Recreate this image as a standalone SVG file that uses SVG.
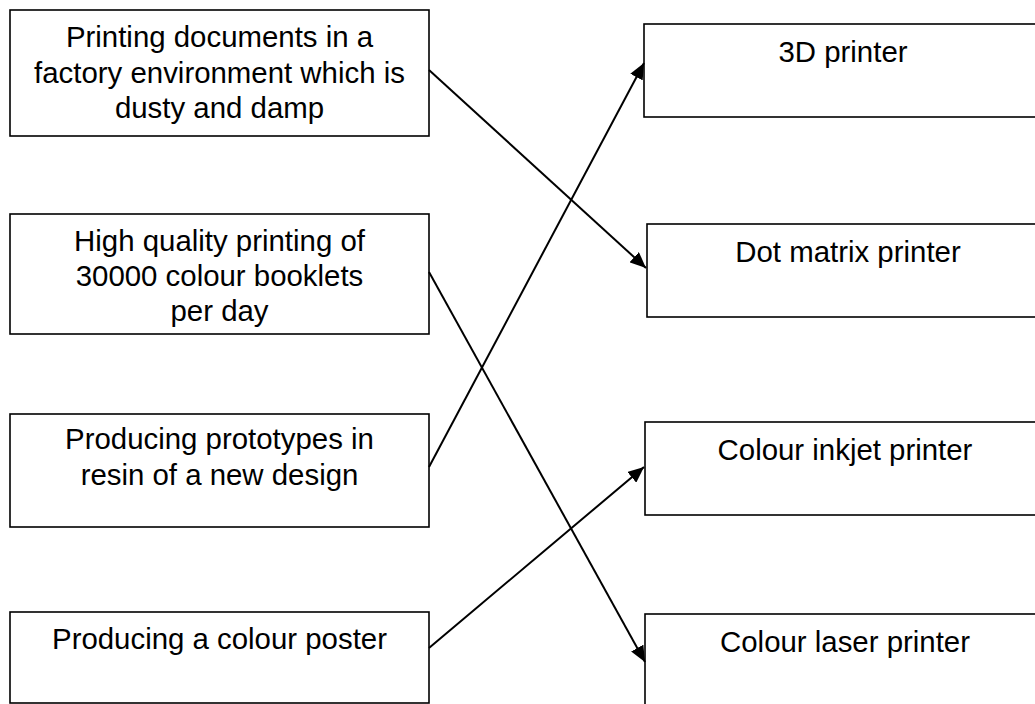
<svg xmlns="http://www.w3.org/2000/svg" width="1035" height="704" viewBox="0 0 1035 704">
<style>
.box{fill:#fff;stroke:#000;stroke-width:1.6}
.t{font-family:"Liberation Sans",Arial,sans-serif;font-size:29.4px;fill:#000;text-anchor:middle}
.c{fill:none;stroke:#000;stroke-width:2}
</style>
<defs>
<marker id="ah" markerUnits="userSpaceOnUse" markerWidth="18" markerHeight="14" refX="16" refY="7" orient="auto">
<path d="M0,0 L16,7 L0,14 Z" fill="#000"/>
</marker>
</defs>
<rect width="1035" height="704" fill="#fff"/>
<g id="n1"><rect class="box" x="10" y="10" width="419" height="126"/>
<text class="t" x="219.5" y="47">Printing documents in a</text>
<text class="t" x="219.5" y="83">factory environment which is</text>
<text class="t" x="219.5" y="118">dusty and damp</text></g>
<g id="n2"><rect class="box" x="10" y="214" width="419" height="120"/>
<text class="t" x="219.5" y="251">High quality printing of</text>
<text class="t" x="219.5" y="286">30000 colour booklets</text>
<text class="t" x="219.5" y="321">per day</text></g>
<g id="n3"><rect class="box" x="10" y="414" width="419" height="113"/>
<text class="t" x="219.5" y="449">Producing prototypes in</text>
<text class="t" x="219.5" y="485">resin of a new design</text></g>
<g id="n4"><rect class="box" x="10" y="612" width="419" height="91"/>
<text class="t" x="219.5" y="649">Producing a colour poster</text></g>
<g id="n5"><rect class="box" x="644" y="24" width="420" height="93"/>
<text class="t" x="843" y="62">3D printer</text></g>
<g id="n6"><rect class="box" x="647" y="224" width="420" height="93"/>
<text class="t" x="848" y="262">Dot matrix printer</text></g>
<g id="n7"><rect class="box" x="645" y="422" width="420" height="93"/>
<text class="t" x="845" y="460">Colour inkjet printer</text></g>
<g id="n8"><rect class="box" x="645" y="614" width="420" height="120"/>
<text class="t" x="845" y="652">Colour laser printer</text></g>
<g id="connectors">
<line class="c" x1="429" y1="70" x2="646" y2="268" marker-end="url(#ah)"/>
<line class="c" x1="429" y1="272" x2="645" y2="662" marker-end="url(#ah)"/>
<line class="c" x1="429" y1="467" x2="644" y2="63" marker-end="url(#ah)"/>
<line class="c" x1="429" y1="648" x2="644" y2="467" marker-end="url(#ah)"/>
</g>
</svg>
